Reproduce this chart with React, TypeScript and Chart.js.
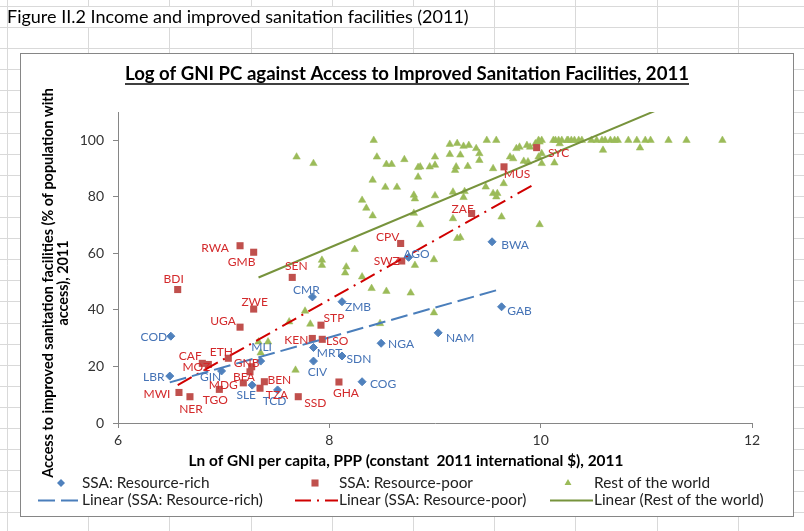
import React, { useEffect, useRef } from "react";
import { Chart, registerables } from "chart.js";
Chart.register(...registerables);

const FONT = 'Lato, "Open Sans", sans-serif';

const caption = "Figure II.2 Income and improved sanitation facilities (2011)";
const chartTitle = "Log of GNI PC against Access to Improved Sanitation Facilities, 2011";
const xTitle = "Ln of GNI per capita, PPP (constant  2011 international $), 2011";
const yTitleLines = ["Access to improved sanitation facilities (% of population with", "access), 2011"];

const xTicks = [6, 8, 10, 12];
const yTicks = [0, 20, 40, 60, 80, 100];

// SSA: Resource-rich
const richCodes = ["COD", "LBR", "GIN", "MLI", "SLE", "TCD", "CMR", "ZMB", "NGA", "NAM", "MRT", "SDN", "CIV", "COG", "AGO", "BWA", "GAB"];
const richX = [6.5, 6.49, 6.98, 7.35, 7.27, 7.51, 7.84, 8.12, 8.49, 9.03, 7.85, 8.12, 7.85, 8.31, 8.75, 9.54, 9.63];
const richY = [30.7, 16.6, 18.4, 21.9, 13.4, 11.7, 44.6, 42.9, 28.2, 31.9, 26.7, 23.7, 21.9, 14.6, 58.6, 64.1, 41.1];

// SSA: Resource-poor
const poorCodes = ["RWA", "GMB", "BDI", "ZWE", "UGA", "CAF", "MOZ", "ETH", "GNB", "BFA", "MDG", "TGO", "MWI", "NER", "BEN", "TZA", "SSD", "SEN", "STP", "KEN", "LSO", "GHA", "CPV", "SWZ", "ZAF", "MUS", "SYC"];
const poorX = [7.155, 7.284, 6.565, 7.284, 7.155, 6.798, 6.855, 7.044, 7.265, 7.249, 7.186, 6.959, 6.577, 6.681, 7.385, 7.344, 7.706, 7.649, 7.921, 7.839, 7.933, 8.091, 8.675, 8.685, 9.347, 9.653, 9.962];
const poorY = [62.7, 60.4, 47.2, 40.3, 33.9, 21.1, 20.7, 22.9, 19.9, 18.1, 14.2, 11.9, 10.8, 9.3, 14.6, 12.3, 9.3, 51.5, 34.6, 29.9, 29.6, 14.5, 63.5, 57.3, 74.1, 90.6, 97.4];

// Rest of the world
const restX = [
  7.33, 7.42, 7.35, 7.62, 7.68, 7.77, 7.82, 8.48, 8.99,
  8.24, 7.93, 7.93, 8.16, 8.15, 8.31, 8.4, 8.54, 8.77, 8.81, 8.99, 9.21, 9.24,
  7.69, 7.85, 8.42, 8.45, 8.54, 8.59, 8.71, 8.84, 8.84, 8.41, 8.53, 8.64, 8.8, 8.81, 8.31, 8.35, 8.41, 8.8, 8.86,
  9.49, 9.58, 9.14, 9.21, 9.27, 9.32, 9.39, 9.42, 9.0, 9.14, 9.24, 9.42, 9.95, 9.87, 9.9, 9.77, 9.8, 9.71, 9.74, 9.84,
  9.88, 9.98, 10.01, 8.86, 8.95, 9.0, 9.2, 9.19, 9.31, 9.55, 9.65, 9.48, 9.55, 9.59, 9.58, 9.28, 9.27, 9.17, 9.0, 9.17,
  9.63, 9.99,
  10.01, 10.13, 10.18, 10.59, 10.94, 9.99,
  9.98, 10.01, 10.12, 10.14, 10.17, 10.2, 10.25, 10.26, 10.29, 10.32, 10.36, 10.39, 10.48, 10.53, 10.58, 10.61,
  10.66, 10.7, 10.73, 10.83, 10.91, 10.99, 11.04, 11.21, 11.38, 11.72,
];
const restY = [
  28.7, 28.7, 24.8, 35.8, 18.7, 39.6, 35.0, 35.2, 39.0,
  61.4, 57.6, 55.8, 55.2, 53.1, 51.7, 47.6, 46.6, 46.0, 55.8, 57.8, 65.3, 65.6,
  94.1, 91.8, 100, 94.1, 91.5, 91.5, 93.2, 90.4, 87.0, 85.9, 83.4, 83.4, 80.6, 79.3, 78.8, 76.0, 73.3, 74.2, 70.2,
  100, 100, 98.6, 98.9, 97.9, 98.2, 97.1, 95.3, 94.1, 95.0, 94.8, 92.9, 98.8, 98.2, 97.6, 97.1, 97.6, 94.1, 93.5, 92.6,
  92.4, 94.1, 91.8, 90.6, 90.6, 91.2, 90.6, 89.4, 90.8, 90.0, 84.7, 83.5, 81.2, 81.2, 80.0, 81.9, 79.8, 81.7, 80.4, 72.3,
  72.9, 70.2,
  95.3, 92.0, 98.8, 96.5, 97.3, 99.4,
  100, 100, 100, 100, 100, 100, 100, 100, 100, 100, 100, 100, 100, 100, 100, 100,
  100, 100, 100, 100, 100, 100, 100, 100, 100, 100,
];

// label placement (text-centre offset from the marker, px)
const richLabelOffset = [[-17, 1], [-16, 1], [-11, 6], [1, -14], [-6, 10], [-3, 11], [-6, -7], [16, 5], [20, 1], [22, 5], [16, 6], [17, 3], [4, 11], [21, 2], [8, -3], [23, 3], [18, 4]];
const poorLabelOffset = [[-25, 2], [-12, 10], [-4, -10], [1, -7], [-17, -6], [-12, -7], [-12, 3], [-7, -6], [-5, -4], [-6, 5], [-20, 2], [-4, 11], [-22, 2], [1, 12], [15, -2], [17, 7], [17, 6], [4, -11], [13, -7], [-16, 2], [15, 2], [7, 11], [-13, -6], [-15, 0], [-9, -4], [13, 7], [22, 6]];

const BLUE = "#4F81BD";
const RED = "#C0504D";
const GREEN = "#9BBB59";
const BLUE_LINE = "#4A7EBB";
const RED_LINE = "#D00000";
const GREEN_LINE = "#77933C";
const BLUE_TEXT = "#4573B6";
const RED_TEXT = "#D3292B";
const AXIS = "#868686";

function pts(xs: number[], ys: number[]) {
  return xs.map((x, i) => ({ x, y: ys[i] }));
}

function trend(xs: number[], ys: number[]) {
  const n = xs.length;
  const mx = xs.reduce((a, b) => a + b, 0) / n;
  const my = ys.reduce((a, b) => a + b, 0) / n;
  let sxy = 0, sxx = 0;
  for (let i = 0; i < n; i++) {
    sxy += (xs[i] - mx) * (ys[i] - my);
    sxx += (xs[i] - mx) * (xs[i] - mx);
  }
  const m = sxy / sxx;
  const b = my - m * mx;
  const x0 = Math.min(...xs);
  const x1 = Math.max(...xs);
  return [{ x: x0, y: m * x0 + b }, { x: x1, y: m * x1 + b }];
}

function drawMarker(ctx: CanvasRenderingContext2D, style: string, x: number, y: number, r: number, color: string) {
  ctx.save();
  ctx.fillStyle = color;
  ctx.beginPath();
  if (style === "rectRot") {
    ctx.moveTo(x - r, y); ctx.lineTo(x, y - r); ctx.lineTo(x + r, y); ctx.lineTo(x, y + r);
  } else if (style === "rect") {
    const s = r * Math.SQRT1_2;
    ctx.rect(x - s, y - s, 2 * s, 2 * s);
  } else {
    ctx.moveTo(x, y - r);
    ctx.lineTo(x + r * 0.866, y + r * 0.5);
    ctx.lineTo(x - r * 0.866, y + r * 0.5);
  }
  ctx.closePath();
  ctx.fill();
  ctx.restore();
}

const decorPlugin = {
  id: "decor",
  beforeDraw(chart: any) {
    const { ctx, width: W, height: H } = chart;
    ctx.save();
    ctx.fillStyle = "#ffffff";
    ctx.fillRect(0, 0, W, H);
    // spreadsheet grid
    ctx.strokeStyle = "#d9d9d9";
    ctx.lineWidth = 1;
    ctx.beginPath();
    for (let k = 0; 6 + 21.1 * k <= H; k++) {
      const y = Math.round(6 + 21.1 * k) + 0.5;
      ctx.moveTo(0, y); ctx.lineTo(W, y);
    }
    for (let k = 0; 7 + 81.2 * k <= W; k++) {
      const x = Math.round(7 + 81.2 * k) + 0.5;
      if (x > 20 && x < 475) {
        ctx.moveTo(x, 0); ctx.lineTo(x, 6);
        ctx.moveTo(x, 27); ctx.lineTo(x, H);
      } else {
        ctx.moveTo(x, 0); ctx.lineTo(x, H);
      }
    }
    ctx.stroke();
    ctx.fillStyle = "#000";
    ctx.font = `18px ${FONT}`;
    ctx.textAlign = "left";
    ctx.textBaseline = "middle";
    ctx.fillText(caption, 7, 17);
    // chart box
    ctx.fillStyle = "#ffffff";
    ctx.fillRect(20, 53, 774, 464);
    ctx.strokeStyle = AXIS;
    ctx.strokeRect(20.5, 53.5, 773, 463);
    // title
    ctx.fillStyle = "#000";
    ctx.font = `bold 18.6px ${FONT}`;
    ctx.textAlign = "center";
    ctx.fillText(chartTitle, 407, 74);
    const tw = ctx.measureText(chartTitle).width;
    ctx.strokeStyle = "#000";
    ctx.lineWidth = 1.3;
    ctx.beginPath();
    ctx.moveTo(407 - tw / 2, 84); ctx.lineTo(407 + tw / 2, 84);
    ctx.stroke();
    // axis titles
    ctx.font = `bold 15.4px ${FONT}`;
    ctx.fillText(xTitle, 406, 461);
    ctx.font = `bold 14.4px ${FONT}`;
    yTitleLines.forEach((t, i) => {
      ctx.save();
      ctx.translate(48 + i * 15, 283);
      ctx.rotate(-Math.PI / 2);
      ctx.fillText(t, 0, 0);
      ctx.restore();
    });
    // legend
    const ds = chart.data.datasets;
    const colX = [82, 339, 594];
    const markerX = [61, 315, 568];
    const row1 = 483, row2 = 500;
    ctx.font = `15.4px ${FONT}`;
    ctx.textAlign = "left";
    [0, 1, 2].forEach((di, c) => {
      const d = ds[di];
      drawMarker(ctx, d.pointStyle, markerX[c], row1, d.pointStyle === "rect" ? 5 : 4, d.backgroundColor);
      ctx.fillStyle = "#222";
      ctx.fillText(d.label, colX[c], row1);
    });
    [3, 4, 5].forEach((di, c) => {
      const d = ds[di];
      ctx.save();
      ctx.strokeStyle = d.borderColor;
      ctx.lineWidth = d.borderWidth;
      ctx.setLineDash(d.borderDash || []);
      ctx.beginPath();
      ctx.moveTo(colX[c] - 44, row2 + 0.5);
      ctx.lineTo(colX[c] - 1, row2 + 0.5);
      ctx.stroke();
      ctx.restore();
      ctx.fillStyle = "#222";
      ctx.fillText(d.label, colX[c], row2);
    });
    ctx.restore();
  },
};

const labelPlugin = {
  id: "pointLabels",
  afterDatasetsDraw(chart: any) {
    const ctx = chart.ctx;
    chart.data.datasets.forEach((d: any, i: number) => {
      if (!d.codes) return;
      const meta = chart.getDatasetMeta(i);
      ctx.save();
      ctx.font = `12px ${FONT}`;
      ctx.fillStyle = d.labelColor;
      ctx.textAlign = "center";
      ctx.textBaseline = "middle";
      meta.data.forEach((el: any, j: number) => {
        const [dx, dy] = d.labelOffsets[j];
        ctx.fillText(d.codes[j], el.x + dx, el.y + dy);
      });
      ctx.restore();
    });
  },
};

export default function App() {
  const ref = useRef<HTMLCanvasElement>(null);
  useEffect(() => {
    const tickFont = { family: FONT, size: 14 };
    const chart = new Chart(ref.current as HTMLCanvasElement, {
      type: "scatter",
      data: {
        datasets: [
          {
            label: "SSA: Resource-rich", data: pts(richX, richY), pointStyle: "rectRot", pointRadius: 4,
            backgroundColor: BLUE, borderColor: BLUE, borderWidth: 1, order: 4,
            codes: richCodes, labelOffsets: richLabelOffset, labelColor: BLUE_TEXT,
          } as any,
          {
            label: "SSA: Resource-poor", data: pts(poorX, poorY), pointStyle: "rect", pointRadius: 5,
            backgroundColor: RED, borderColor: RED, borderWidth: 0, order: 3,
            codes: poorCodes, labelOffsets: poorLabelOffset, labelColor: RED_TEXT,
          } as any,
          {
            label: "Rest of the world", data: pts(restX, restY), pointStyle: "triangle", pointRadius: 4.3,
            backgroundColor: GREEN, borderColor: GREEN, borderWidth: 0.5, order: 5,
          } as any,
          {
            label: "Linear (SSA: Resource-rich)", data: trend(richX, richY), showLine: true, pointRadius: 0,
            borderColor: BLUE_LINE, backgroundColor: BLUE_LINE, borderWidth: 2, borderDash: [17, 6], order: 0,
          } as any,
          {
            label: "Linear (SSA: Resource-poor)", data: trend(poorX, poorY), showLine: true, pointRadius: 0,
            borderColor: RED_LINE, backgroundColor: RED_LINE, borderWidth: 2, borderDash: [16, 6, 2, 6], order: 1,
          } as any,
          {
            label: "Linear (Rest of the world)", data: trend(restX, restY), showLine: true, pointRadius: 0,
            borderColor: GREEN_LINE, backgroundColor: GREEN_LINE, borderWidth: 2, order: 2,
          } as any,
        ],
      },
      options: {
        animation: false,
        responsive: false,
        events: [],
        layout: { padding: { left: 20, right: 52, top: 112, bottom: 78 } },
        plugins: { legend: { display: false }, title: { display: false }, tooltip: { enabled: false } },
        scales: {
          x: {
            type: "linear", min: 6, max: 12,
            afterBuildTicks: (s: any) => { s.ticks = xTicks.map((v) => ({ value: v })); },
            ticks: { font: tickFont, color: "#333", padding: 4 },
            grid: { drawOnChartArea: false, drawTicks: true, tickLength: 5, color: AXIS },
            border: { color: AXIS, width: 1 },
            afterFit: (s: any) => { s.height = 30; },
          },
          y: {
            type: "linear", min: 0, max: 110,
            afterBuildTicks: (s: any) => { s.ticks = yTicks.map((v) => ({ value: v })); },
            ticks: { font: tickFont, color: "#333", padding: 9 },
            grid: { drawOnChartArea: false, drawTicks: true, tickLength: 5, color: AXIS },
            border: { color: AXIS, width: 1 },
            afterFit: (s: any) => { s.width = 98; },
          },
        },
      } as any,
      plugins: [decorPlugin, labelPlugin],
    });
    return () => chart.destroy();
  }, []);
  return (
    <div style={{ position: "absolute", left: 0, top: 0, width: 804, height: 531 }}>
      <canvas ref={ref} width={804} height={531} style={{ display: "block", width: 804, height: 531 }} />
    </div>
  );
}
